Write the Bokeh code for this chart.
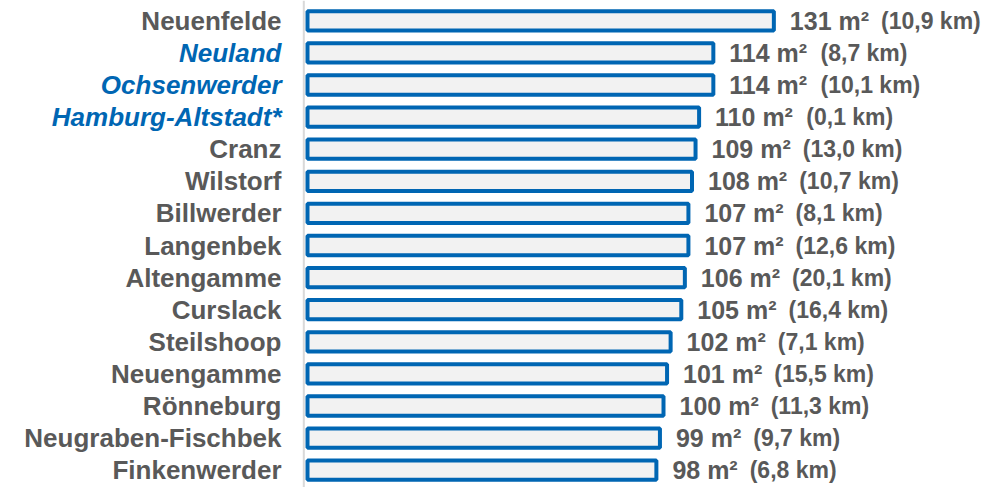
from bokeh.plotting import figure
from bokeh.models import ColumnDataSource, Span, Range1d
from bokeh.core.properties import value
from bokeh.embed import file_html
from bokeh.resources import INLINE

# ---- data ----
categories = ["Neuenfelde", "Neuland", "Ochsenwerder", "Hamburg-Altstadt*", "Cranz",
              "Wilstorf", "Billwerder", "Langenbek", "Altengamme", "Curslack",
              "Steilshoop", "Neuengamme", "Rönneburg", "Neugraben-Fischbek", "Finkenwerder"]
area_m2 = [131, 114, 114, 110, 109, 108, 107, 107, 106, 105, 102, 101, 100, 99, 98]
distance_km = [10.9, 8.7, 10.1, 0.1, 13.0, 10.7, 8.1, 12.6, 20.1, 16.4, 7.1, 15.5, 11.3, 9.7, 6.8]
highlighted = [False, True, True, True, False, False, False, False, False, False,
               False, False, False, False, False]

# ---- styling ----
GRAY = "#595959"
BLUE = "#0066B3"
FONT = "Liberation Sans"
VAL_SIZE = 25
KM_SIZE = 23
VAL_OFFSET = 16
GAP = 12

# approximate advance widths (Arial/Liberation Sans Bold, em units)
_W = {"0": .556, "1": .556, "2": .556, "3": .556, "4": .556, "5": .556, "6": .556,
      "7": .556, "8": .556, "9": .556, " ": .278, "m": .889, "²": .333}


def text_width(s, size):
    return sum(_W.get(c, .556) for c in s) * size


n = len(categories)
rows = [n - 1 - i for i in range(n)]
val_labels = [f"{a} m²" for a in area_m2]
km_labels = ["(" + f"{d:.1f}".replace(".", ",") + " km)" for d in distance_km]
km_offsets = [VAL_OFFSET + text_width(v, VAL_SIZE) + GAP for v in val_labels]

src = ColumnDataSource(dict(
    row=rows,
    cat=categories,
    area=area_m2,
    val=val_labels,
    km=km_labels,
    km_off=km_offsets,
    zero=[0] * n,
    color=[BLUE if h else GRAY for h in highlighted],
    style=["bold italic" if h else "bold" for h in highlighted],
))

W, H = 1005, 487
scale = 3.56          # px per m²
zero_px = 307         # figure x of value 0
pitch = 32.1
top_px = 20.3

p = figure(width=W, height=H, output_backend="svg", toolbar_location=None,
           x_range=Range1d(-zero_px / scale, (W - zero_px) / scale),
           y_range=Range1d(-(H - top_px - (n - 1) * pitch) / pitch, (n - 1) + top_px / pitch),
           min_border=0, min_border_left=0, min_border_right=0,
           min_border_top=0, min_border_bottom=0)
p.axis.visible = False
p.grid.visible = False
p.outline_line_color = None
p.background_fill_color = "white"

# vertical axis line
p.add_layout(Span(location=-3.7 / scale, dimension="height",
                  line_color="#D9D9D9", line_width=2))

p.hbar(y="row", left=0, right="area", height=0.6, source=src,
       fill_color="#F2F2F2", line_color=BLUE, line_width=4)

# category labels
p.text(x="zero", y="row", text="cat", source=src, x_offset=-26,
       text_align="right", text_baseline="middle",
       text_font=value(FONT), text_font_size="26px",
       text_font_style="style", text_color="color")

# value labels
p.text(x="area", y="row", text="val", source=src, x_offset=VAL_OFFSET,
       text_align="left", text_baseline="middle",
       text_font=value(FONT), text_font_size=f"{VAL_SIZE}px",
       text_font_style="bold", text_color=GRAY)

# distance labels
p.text(x="area", y="row", text="km", source=src, x_offset="km_off",
       text_align="left", text_baseline="middle",
       text_font=value(FONT), text_font_size=f"{KM_SIZE}px",
       text_font_style="bold", text_color=GRAY)

open("out.html", "w").write(file_html(p, INLINE))
